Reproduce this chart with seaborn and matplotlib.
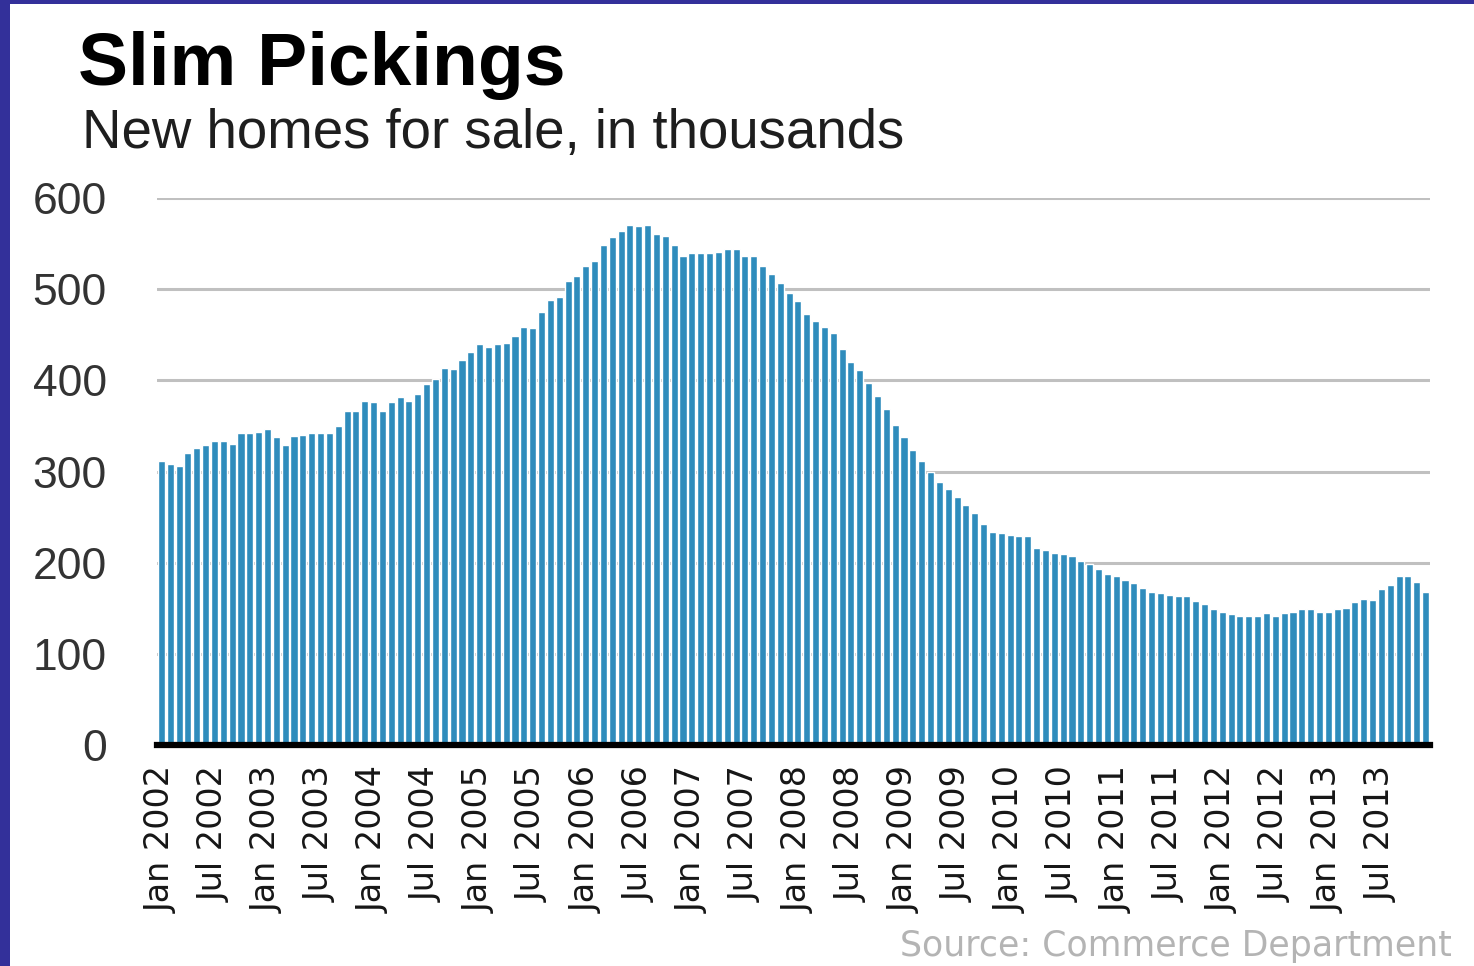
import numpy as np
import pandas as pd
import seaborn as sns
import matplotlib
matplotlib.use("Agg")
import matplotlib.pyplot as plt
from matplotlib import font_manager
from matplotlib.patches import Rectangle

# New homes for sale, in thousands (monthly, Jan 2002 - Dec 2013)
homes_2002 = [312, 308, 306, 320, 326, 329, 333, 333, 330, 342, 342, 343]
homes_2003 = [347, 338, 329, 339, 340, 342, 342, 342, 350, 366, 366, 377]
homes_2004 = [376, 366, 376, 382, 377, 385, 396, 402, 413, 412, 422, 431]
homes_2005 = [440, 437, 440, 441, 449, 458, 457, 475, 488, 491, 509, 514]
homes_2006 = [525, 531, 548, 557, 564, 570, 569, 570, 561, 558, 548, 536]
homes_2007 = [540, 540, 540, 541, 544, 544, 536, 536, 525, 517, 507, 496]
homes_2008 = [487, 473, 465, 458, 452, 434, 420, 411, 397, 383, 369, 351]
homes_2009 = [338, 324, 311, 299, 289, 281, 272, 263, 254, 242, 234, 232]
homes_2010 = [230, 229, 229, 216, 214, 211, 209, 207, 202, 198, 193, 188]
homes_2011 = [185, 181, 178, 172, 168, 167, 165, 163, 163, 158, 155, 149]
homes_2012 = [146, 144, 142, 142, 142, 145, 142, 145, 146, 149, 149, 146]
homes_2013 = [146, 149, 150, 157, 160, 159, 171, 175, 185, 185, 179, 168]

years = list(range(2002, 2014))
month_names = ["Jan", "Feb", "Mar", "Apr", "May", "Jun",
               "Jul", "Aug", "Sep", "Oct", "Nov", "Dec"]
months = [f"{m} {y}" for y in years for m in month_names]
values = (homes_2002 + homes_2003 + homes_2004 + homes_2005 + homes_2006
          + homes_2007 + homes_2008 + homes_2009 + homes_2010 + homes_2011
          + homes_2012 + homes_2013)

y_ticks = [0, 100, 200, 300, 400, 500, 600]
x_tick_labels = [f"{m} {y}" for y in years for m in ("Jan", "Jul")]

df = pd.DataFrame({"month": months, "homes": values})

sns.set_theme(style="white")
installed = {f.name for f in font_manager.fontManager.ttflist}
narrow = "Liberation Sans Narrow" if "Liberation Sans Narrow" in installed else "Liberation Sans"
narrow_size = 36 if narrow == "Liberation Sans Narrow" else 32
plt.rcParams["font.family"] = ["Liberation Sans", "DejaVu Sans"]

W, H = 1474, 966
fig = plt.figure(figsize=(W / 100, H / 100), dpi=100)
fig.patch.set_facecolor("white")

ax_left, ax_right, ax_bottom, ax_top = 157, 1430, 745, 198
ax = fig.add_axes([ax_left / W, 1 - ax_bottom / H,
                   (ax_right - ax_left) / W, (ax_bottom - ax_top) / H])

sns.barplot(data=df, x="month", y="homes", order=months, color="#2f8cbc",
            saturation=1, width=0.8, ax=ax, zorder=3)

ax.set_xlim(-0.5, len(months) - 0.5)
ax.set_ylim(0, 600)
ax.set_yticks(y_ticks)
ax.set_yticklabels([str(v) for v in y_ticks], fontfamily=narrow,
                   fontsize=narrow_size, color="#333333")
ax.set_xticks([months.index(lbl) for lbl in x_tick_labels])
ax.set_xticklabels(x_tick_labels, rotation=90, fontfamily="DejaVu Sans",
                   fontsize=24, color="#161616")
ax.tick_params(axis="x", length=0, pad=15)
ax.tick_params(axis="y", length=0, pad=36)
ax.set_xlabel("")
ax.set_ylabel("")

ax.yaxis.grid(True, color="#c0c0c0", linewidth=2.2, zorder=0)
ax.set_axisbelow(True)
for side in ("top", "right", "left"):
    ax.spines[side].set_visible(False)
ax.spines["bottom"].set_color("black")
ax.spines["bottom"].set_linewidth(4.5)
ax.spines["bottom"].set_zorder(5)

fig.text(78 / W, 1 - 85 / H, "Slim Pickings", fontsize=54, fontweight="bold",
         color="black", va="baseline", ha="left")
fig.text(82 / W, 1 - 148 / H, "New homes for sale, in thousands", fontsize=39.3,
         color="#1e1e1e", va="baseline", ha="left")
fig.text(1452 / W, 1 - 956 / H, "Source: Commerce Department",
         fontfamily="DejaVu Sans", fontsize=25, color="#b4b4b4",
         va="baseline", ha="right")

# frame strips along the top and left edges
frame = "#33309a"
fig.patches.append(Rectangle((0, 0), 10 / W, 1, transform=fig.transFigure,
                             facecolor=frame, edgecolor="none", zorder=10))
fig.patches.append(Rectangle((0, 1 - 4 / H), 1, 4 / H, transform=fig.transFigure,
                             facecolor=frame, edgecolor="none", zorder=10))

fig.savefig("out.png", dpi=100, facecolor="white")
